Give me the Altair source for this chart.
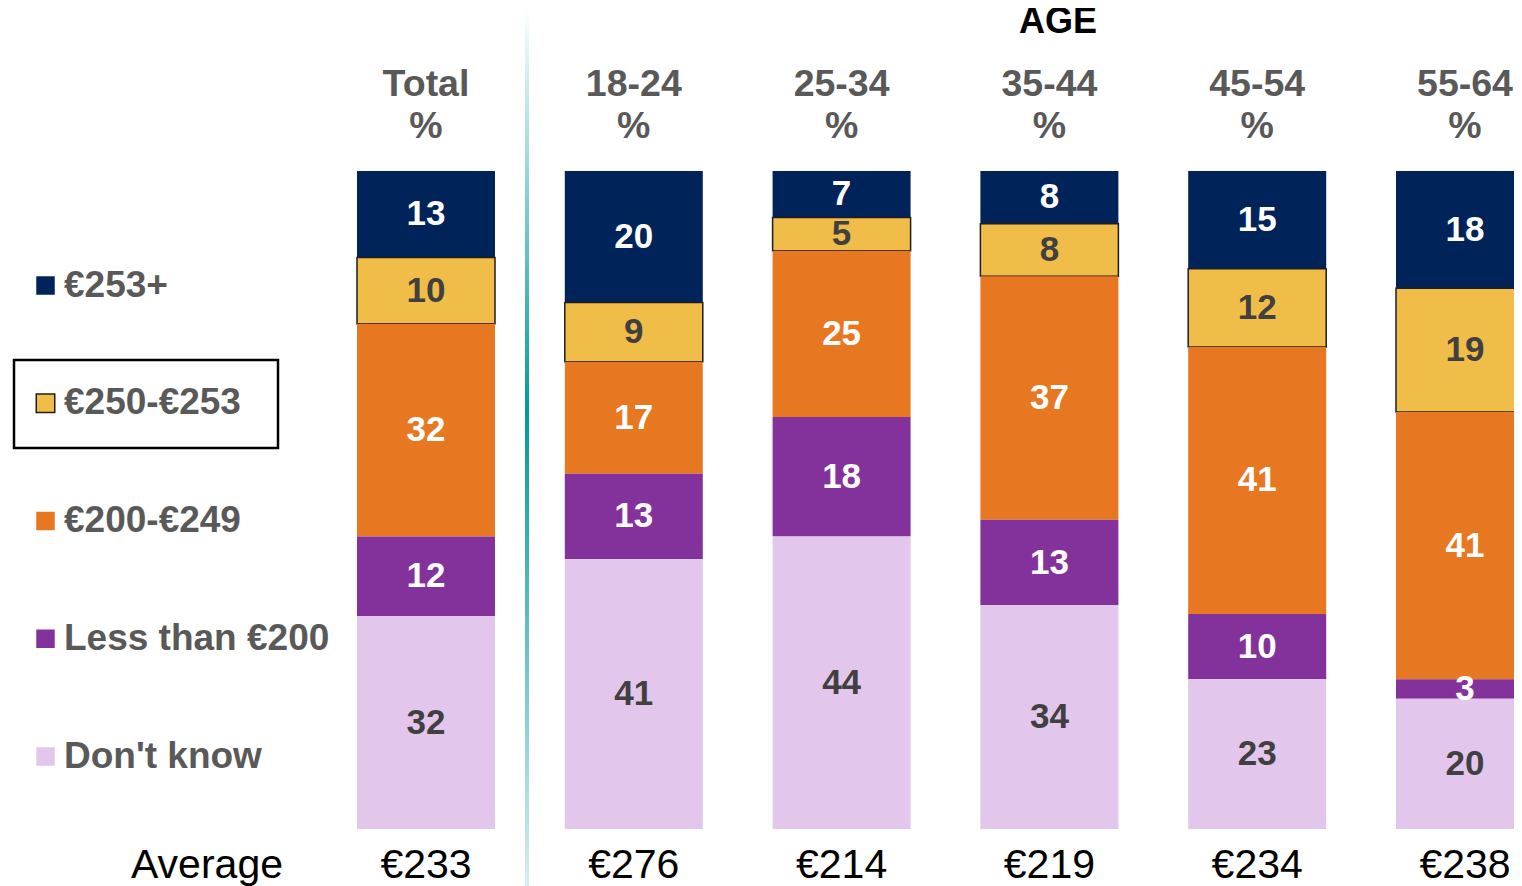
import altair as alt
import pandas as pd

# ---- data ----
groups = ["Total", "18-24", "25-34", "35-44", "45-54", "55-64"]
categories = ["€253+", "€250-€253", "€200-€249", "Less than €200", "Don't know"]
v_253_plus = [13, 20, 7, 8, 15, 18]
v_250_253 = [10, 9, 5, 8, 12, 19]
v_200_249 = [32, 17, 25, 37, 41, 41]
v_less_200 = [12, 13, 18, 13, 10, 3]
v_dont_know = [32, 41, 44, 34, 23, 20]
averages = ["€233", "€276", "€214", "€219", "€234", "€238"]

# ---- styles ----
colors = ["#00235A", "#F0BD48", "#E87722", "#84329B", "#E3C6EB"]
strokes = ["transparent", "#1E1E1E", "transparent", "transparent", "transparent"]
label_colors = ["#FFFFFF", "#404040", "#FFFFFF", "#FFFFFF", "#404040"]
FONT = "Liberation Sans"

series = [v_253_plus, v_250_253, v_200_249, v_less_200, v_dont_know]
rows = []
for ci, (cat, vals) in enumerate(zip(categories, series)):
    for gi, (g, v) in enumerate(zip(groups, vals)):
        rows.append({"group": g, "idx": gi, "cat": cat, "value": v,
                     "stack_order": len(categories) - 1 - ci,
                     "tcolor": label_colors[ci]})
df = pd.DataFrame(rows)
hdf = pd.DataFrame({"group": groups, "idx": list(range(len(groups))), "avg": averages})

W, H = 1506, 878
xs = alt.Scale(domain=[-2.0115, 5.2358], nice=False, zero=False, padding=0)
ys = alt.Scale(domain=[-0.08663, 1.24772], nice=False, zero=False, padding=0)

base = alt.Chart(df).transform_stack(
    stack="value", groupby=["group"], as_=["y0", "y1"], offset="normalize",
    sort=[alt.SortField("stack_order", order="ascending")]
).transform_calculate(mid="(datum.y0 + datum.y1) / 2")

bars = base.mark_bar(size=138, clip=True, strokeWidth=1.5).encode(
    x=alt.X("idx:Q", scale=xs, axis=None),
    y=alt.Y("y0:Q", scale=ys, axis=None),
    y2="y1:Q",
    color=alt.Color("cat:N", scale=alt.Scale(domain=categories, range=colors), title=None),
    stroke=alt.Stroke("cat:N", scale=alt.Scale(domain=categories, range=strokes), title=None),
)

labels = base.mark_text(fontSize=35, fontWeight="bold", baseline="middle", font=FONT, clip=True).encode(
    x=alt.X("idx:Q", scale=xs, axis=None),
    y=alt.Y("mid:Q", scale=ys, axis=None),
    text="value:Q",
    color=alt.Color("tcolor:N", scale=None),
)

hbase = alt.Chart(hdf)
headers = hbase.mark_text(fontSize=37.5, fontWeight="bold", color="#595959", font=FONT,
                          baseline="alphabetic").encode(
    x=alt.X("idx:Q", scale=xs, axis=None), y=alt.value(88), text="group:N")
pct = hbase.mark_text(fontSize=37.5, fontWeight="bold", color="#595959", font=FONT,
                      baseline="alphabetic").encode(
    x=alt.X("idx:Q", scale=xs, axis=None), y=alt.value(130), text=alt.value("%"))
avg = hbase.mark_text(fontSize=41, color="#000000", font=FONT, baseline="alphabetic").encode(
    x=alt.X("idx:Q", scale=xs, axis=None), y=alt.value(870), text="avg:N")

one = alt.Chart(pd.DataFrame({"t": ["Average"], "a": ["AGE"]}))
avg_title = one.mark_text(fontSize=41, color="#000000", font=FONT, baseline="alphabetic").encode(
    x=alt.value(199), y=alt.value(870), text="t:N")
age_title = one.mark_text(fontSize=36, fontWeight="bold", color="#000000", font=FONT,
                          baseline="alphabetic").encode(
    x=alt.value(1050), y=alt.value(25), text="a:N")

divider = one.mark_rect(
    color=alt.LinearGradient(
        gradient="linear", x1=0, x2=0, y1=0, y2=1,
        stops=[alt.GradientStop(color="#FFFFFF", offset=0),
               alt.GradientStop(color="#009999", offset=0.46),
               alt.GradientStop(color="#D8EEEE", offset=1)]
    )
).encode(x=alt.value(517), x2=alt.value(521), y=alt.value(0), y2=alt.value(H))

box = one.mark_rect(fillOpacity=0, stroke="#000000", strokeWidth=2.5).encode(
    x=alt.value(6), x2=alt.value(270), y=alt.value(352), y2=alt.value(440))

chart = alt.layer(divider, bars, labels, headers, pct, avg, avg_title, age_title, box).properties(
    width=W, height=H, padding=0, autosize="none"
).configure_view(stroke=None).configure_legend(
    orient="none", legendX=19, legendY=259, direction="vertical",
    symbolType="square", symbolSize=342, symbolStrokeWidth=1.5,
    labelFontSize=37, labelFont=FONT, labelFontWeight="bold", labelColor="#595959",
    labelOffset=0, rowPadding=79.75, padding=0, labelLimit=500, symbolOpacity=1,
)

chart.save("out.html", embed_options={"renderer": "svg", "actions": False})
